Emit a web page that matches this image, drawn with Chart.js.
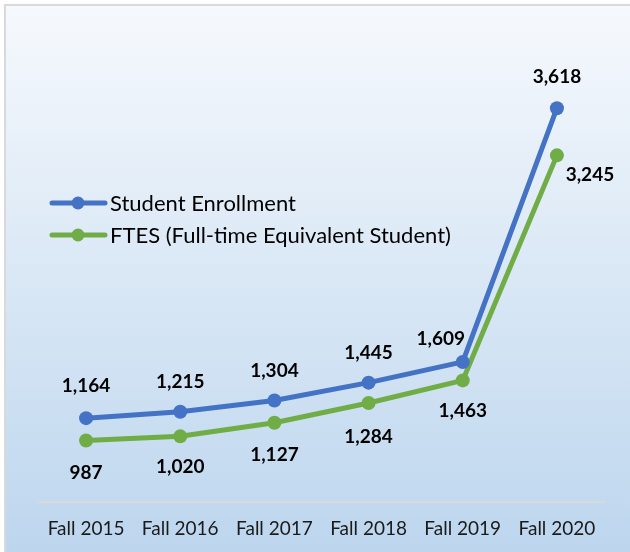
<!DOCTYPE html>
<html>
<head>
<meta charset="utf-8">
<script src="https://cdn.jsdelivr.net/npm/chart.js@4"></script>
<style>
  html, body { margin: 0; padding: 0; background: #fff; }
  #wrap { width: 630px; height: 552px; position: relative; }
</style>
</head>
<body>
<div id="wrap"><canvas id="chart" width="630" height="552"></canvas></div>
<script>
// ── Data ─────────────────────────────────────────────────────────────
const TERMS = ['Fall 2015', 'Fall 2016', 'Fall 2017', 'Fall 2018', 'Fall 2019', 'Fall 2020'];
const ENROLLMENT = [1164, 1215, 1304, 1445, 1609, 3618];
const FTES = [987, 1020, 1127, 1284, 1463, 3245];
const SERIES_NAMES = ['Student Enrollment', 'FTES (Full-time Equivalent Student)'];

const BLUE = '#4472c4';
const GREEN = '#70ad47';
const FONT = 'Lato, "Open Sans", sans-serif';

// label offsets (dx, dy) from each point, Excel-style placement
const ENROLL_OFFSETS = [[0,-32],[0,-30],[0,-30],[0,-30],[-22,-23],[0,-31]];
const FTES_OFFSETS   = [[0,32],[0,31],[0,32],[0,34],[0,30],[33,20]];

// ── Background + frame ───────────────────────────────────────────────
const bgPlugin = {
  id: 'bg',
  beforeDraw(chart) {
    const { ctx, width, height } = chart;
    ctx.save();
    const g = ctx.createLinearGradient(0, 4, 0, height);
    g.addColorStop(0, '#f6f9fd');
    g.addColorStop(1, '#bdd6ee');
    ctx.fillStyle = g;
    ctx.fillRect(4, 4, width - 4, height - 4);
    ctx.strokeStyle = '#d9d9d9';
    ctx.lineWidth = 2;
    ctx.beginPath();
    ctx.moveTo(5, height);
    ctx.lineTo(5, 5);
    ctx.lineTo(width, 5);
    ctx.stroke();
    ctx.restore();
  }
};

// ── Data labels ──────────────────────────────────────────────────────
const labelPlugin = {
  id: 'valueLabels',
  afterDatasetsDraw(chart) {
    const { ctx } = chart;
    const offsets = [ENROLL_OFFSETS, FTES_OFFSETS];
    ctx.save();
    ctx.font = `bold 19px ${FONT}`;
    ctx.fillStyle = '#000';
    ctx.textAlign = 'center';
    ctx.textBaseline = 'middle';
    chart.data.datasets.forEach((ds, di) => {
      chart.getDatasetMeta(di).data.forEach((pt, i) => {
        const [dx, dy] = offsets[di][i];
        ctx.fillText(ds.data[i].toLocaleString('en-US'), pt.x + dx, pt.y + dy);
      });
    });
    ctx.restore();
  }
};

// ── Legend inside the plot ───────────────────────────────────────────
const legendPlugin = {
  id: 'insideLegend',
  afterDraw(chart) {
    const { ctx } = chart;
    const rows = [{ y: 203, c: BLUE }, { y: 235, c: GREEN }];
    ctx.save();
    ctx.font = `22px ${FONT}`;
    ctx.textBaseline = 'middle';
    rows.forEach((r, i) => {
      ctx.strokeStyle = r.c;
      ctx.lineWidth = 5;
      ctx.lineCap = 'round';
      ctx.beginPath();
      ctx.moveTo(52, r.y);
      ctx.lineTo(105, r.y);
      ctx.stroke();
      ctx.fillStyle = r.c;
      ctx.beginPath();
      ctx.arc(78, r.y, 6.5, 0, Math.PI * 2);
      ctx.fill();
      ctx.fillStyle = '#000';
      ctx.fillText(SERIES_NAMES[i], 110, r.y + 1);
    });
    ctx.restore();
  }
};

new Chart(document.getElementById('chart'), {
  type: 'line',
  data: {
    labels: TERMS,
    datasets: [
      {
        label: SERIES_NAMES[0],
        data: ENROLLMENT,
        borderColor: BLUE,
        backgroundColor: BLUE,
        borderWidth: 5,
        pointRadius: 7,
        pointHoverRadius: 7,
        pointBorderWidth: 0,
        tension: 0
      },
      {
        label: SERIES_NAMES[1],
        data: FTES,
        borderColor: GREEN,
        backgroundColor: GREEN,
        borderWidth: 5,
        pointRadius: 7,
        pointHoverRadius: 7,
        pointBorderWidth: 0,
        tension: 0
      }
    ]
  },
  options: {
    responsive: false,
    animation: false,
    layout: { padding: { left: 39, right: 26, top: 60, bottom: 12 } },
    plugins: {
      legend: { display: false },
      tooltip: { enabled: false }
    },
    scales: {
      x: {
        offset: true,
        grid: { display: true, color: 'transparent', drawTicks: false, drawOnChartArea: false },
        border: { display: true, color: '#d9d9d9', width: 2 },
        ticks: { color: '#1a1a1a', padding: 15, font: { family: FONT, size: 19 } },
        afterFit(scale) { scale.height = 38; }
      },
      y: {
        display: false,
        min: 500,
        max: 4000
      }
    }
  },
  plugins: [bgPlugin, labelPlugin, legendPlugin]
});
</script>
</body>
</html>
